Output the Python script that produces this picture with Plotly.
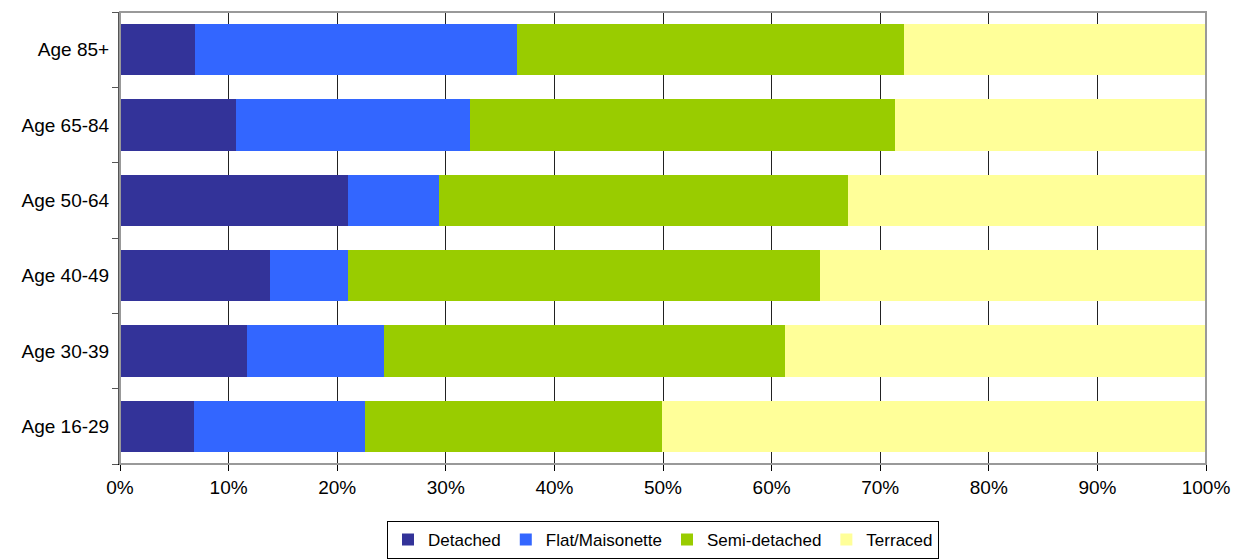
import plotly.graph_objects as go

categories = ["Age 16-29", "Age 30-39", "Age 40-49", "Age 50-64", "Age 65-84", "Age 85+"]
detached = [6.8, 11.7, 13.8, 21.0, 10.7, 6.9]
flat_maisonette = [15.8, 12.6, 7.2, 8.4, 21.5, 29.7]
semi_detached = [27.3, 36.9, 43.5, 37.6, 39.2, 35.6]
terraced = [50.1, 38.8, 35.5, 33.0, 28.6, 27.8]
x_ticks = [0, 10, 20, 30, 40, 50, 60, 70, 80, 90, 100]
x_tick_labels = [f"{v}%" for v in x_ticks]

series = [
    ("Detached", detached, "#333399"),
    ("Flat/Maisonette", flat_maisonette, "#3366FF"),
    ("Semi-detached", semi_detached, "#99CC00"),
    ("Terraced", terraced, "#FFFF99"),
]

fig = go.Figure()
for name, vals, color in series:
    fig.add_trace(go.Bar(
        y=categories, x=vals, name=name, orientation="h",
        marker=dict(color=color, line=dict(width=0)),
    ))

fig.update_layout(
    barmode="stack",
    bargap=0.32,
    width=1244, height=560,
    margin=dict(l=120, r=38, t=12, b=96, autoexpand=False),
    paper_bgcolor="white", plot_bgcolor="white",
    font=dict(family="Liberation Sans, Arial, sans-serif", size=19, color="black"),
    showlegend=True,
    legend=dict(
        orientation="h", x=0.5, xanchor="center", y=-0.126, yanchor="top",
        bordercolor="black", borderwidth=1, font=dict(size=17),
        itemwidth=30, tracegroupgap=0, traceorder="normal",
    ),
    xaxis=dict(
        range=[0, 100], tickvals=x_ticks, ticktext=x_tick_labels,
        showgrid=True, gridcolor="#222222", gridwidth=1,
        showline=True, linecolor="black", linewidth=1,
        ticks="outside", ticklen=6, tickcolor="black",
        zeroline=False, fixedrange=True,
    ),
    yaxis=dict(
        showgrid=False, showline=True, linecolor="#555555", linewidth=2,
        ticks="outside", ticklen=6, tickcolor="#555555", tickson="boundaries",
        ticklabelstandoff=5, fixedrange=True,
    ),
    shapes=[dict(type="rect", xref="paper", yref="paper", x0=0, x1=1, y0=0, y1=1,
                 line=dict(color="#999999", width=2), layer="above")],
)

fig.write_html("out.html")
